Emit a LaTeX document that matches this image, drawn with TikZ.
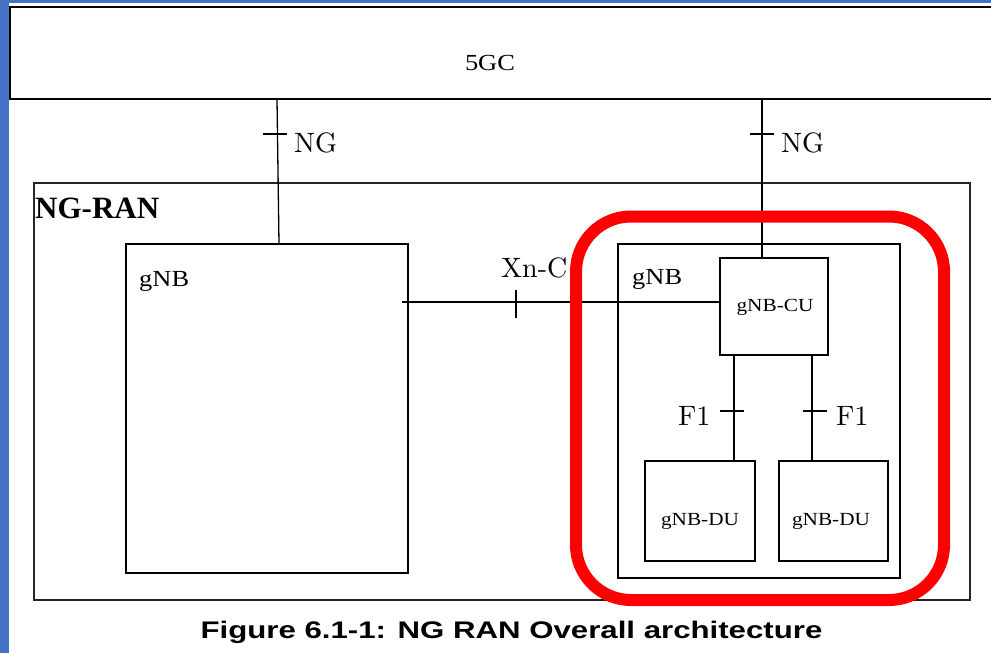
\documentclass[tikz,border=0pt]{standalone}
\usepackage{fontspec}
\newfontfamily\tnr[FakeStretch=1.15]{Liberation Serif}
\newfontfamily\tnrplain{Liberation Serif}
\newfontfamily\capf[FakeStretch=1.3]{Liberation Sans}
\newfontfamily\lmx{lmroman10-regular.otf}
\definecolor{edgeblue}{HTML}{4472C4}
\definecolor{hlred}{HTML}{FF0000}
\tikzset{
  box/.style={draw, line width=1.6pt, inner sep=0pt},
  thinbox/.style={draw=black!85, line width=1.2pt, inner sep=0pt},
  conn/.style={line width=1.3pt},
  lm/.style={font=\lmx\fontsize{28}{32}\selectfont, inner sep=0pt, anchor=base west},
  tl/.style={font=\tnr\fontsize{23}{26}\selectfont, inner sep=0pt},
  sl/.style={font=\tnr\fontsize{18.5}{21}\selectfont, inner sep=0pt},
}
\begin{document}
\begin{tikzpicture}[x=1pt, y=-1pt]
\useasboundingbox (0,0) rectangle (991,653);
\clip (0,0) rectangle (991,653);
\fill[white] (0,0) rectangle (991,653);
\fill[edgeblue] (0,0) rectangle (9,653);
\fill[edgeblue] (0,0) rectangle (991,3);

% boxes
\node[box, line width=2pt, minimum width=990pt, minimum height=92pt] (fivegc) at (505,53) {};
\node[tl, anchor=base] (fivegcT) at (490,70) {5GC};

\node[thinbox, minimum width=936pt, minimum height=417pt] (ngran) at (502,391.5) {};
\node[font=\tnrplain\bfseries\fontsize{31}{34}\selectfont, inner sep=0pt, anchor=base west] (ngranT) at (35,218) {NG-RAN};

\node[box, minimum width=282pt, minimum height=329pt] (gnbL) at (267,408.5) {};
\node[tl, anchor=base west] (gnbLT) at (139,286) {gNB};

\node[box, minimum width=282pt, minimum height=334pt] (gnbR) at (759,411) {};
\node[tl, anchor=base west] (gnbRT) at (632,284) {gNB};

\node[box, minimum width=108pt, minimum height=97pt] (cu) at (774,306.5) {};
\node[sl, anchor=base] (cuT) at (775,311) {gNB-CU};

\node[box, minimum width=110pt, minimum height=100pt] (du1) at (700,511) {};
\node[sl, anchor=base] (du1T) at (700,525) {gNB-DU};

\node[box, minimum width=109pt, minimum height=100pt] (du2) at (833.5,511) {};
\node[sl, anchor=base] (du2T) at (831,525) {gNB-DU};

% connectors
\coordinate (ngLtop) at (277,99);
\coordinate (ngLbot) at (279,244);
\draw[conn] (ngLtop) -- (ngLbot);
\coordinate (ngLtick) at (275,134);
\draw[conn] ([xshift=-12pt]ngLtick) -- ([xshift=12pt]ngLtick);
\node[lm] (ngLT) at (294,152) {NG};

\coordinate (ngR) at (762,0);
\draw[conn] (fivegc.south -| ngR) -- (cu.north -| ngR);
\coordinate (ngRtick) at (762,134);
\draw[conn] ([xshift=-12pt]ngRtick) -- ([xshift=12pt]ngRtick);
\node[lm] (ngRT) at (781,152) {NG};

\coordinate (xnS) at (402,302);
\draw[conn] (xnS) -- (cu.west |- xnS);
\coordinate (xntick) at (516,304);
\draw[conn] ([yshift=-14pt]xntick) -- ([yshift=14pt]xntick);
\node[lm] (xnT) at (501,277) {Xn-C};

\coordinate (f1a) at (734,0);
\draw[conn] (cu.south -| f1a) -- (du1.north -| f1a);
\coordinate (f1atick) at (732,411);
\draw[conn] ([xshift=-12pt]f1atick) -- ([xshift=12pt]f1atick);
\node[lm] (f1aT) at (678,425) {F1};

\coordinate (f1b) at (812,0);
\draw[conn] (cu.south -| f1b) -- (du2.north -| f1b);
\coordinate (f1btick) at (815,411);
\draw[conn] ([xshift=-12pt]f1btick) -- ([xshift=12pt]f1btick);
\node[lm] (f1bT) at (836,425) {F1};

% highlight
\node[draw=hlred, line width=12pt, rounded corners=55pt, minimum width=368pt, minimum height=383.5pt, inner sep=0pt] (hl) at (760,408.25) {};

% caption
\node[font=\capf\bfseries\fontsize{24}{28}\selectfont, inner sep=0pt, anchor=base] (cap) at (511.5,638) {Figure 6.1-1: NG RAN Overall architecture};
\end{tikzpicture}
\end{document}
